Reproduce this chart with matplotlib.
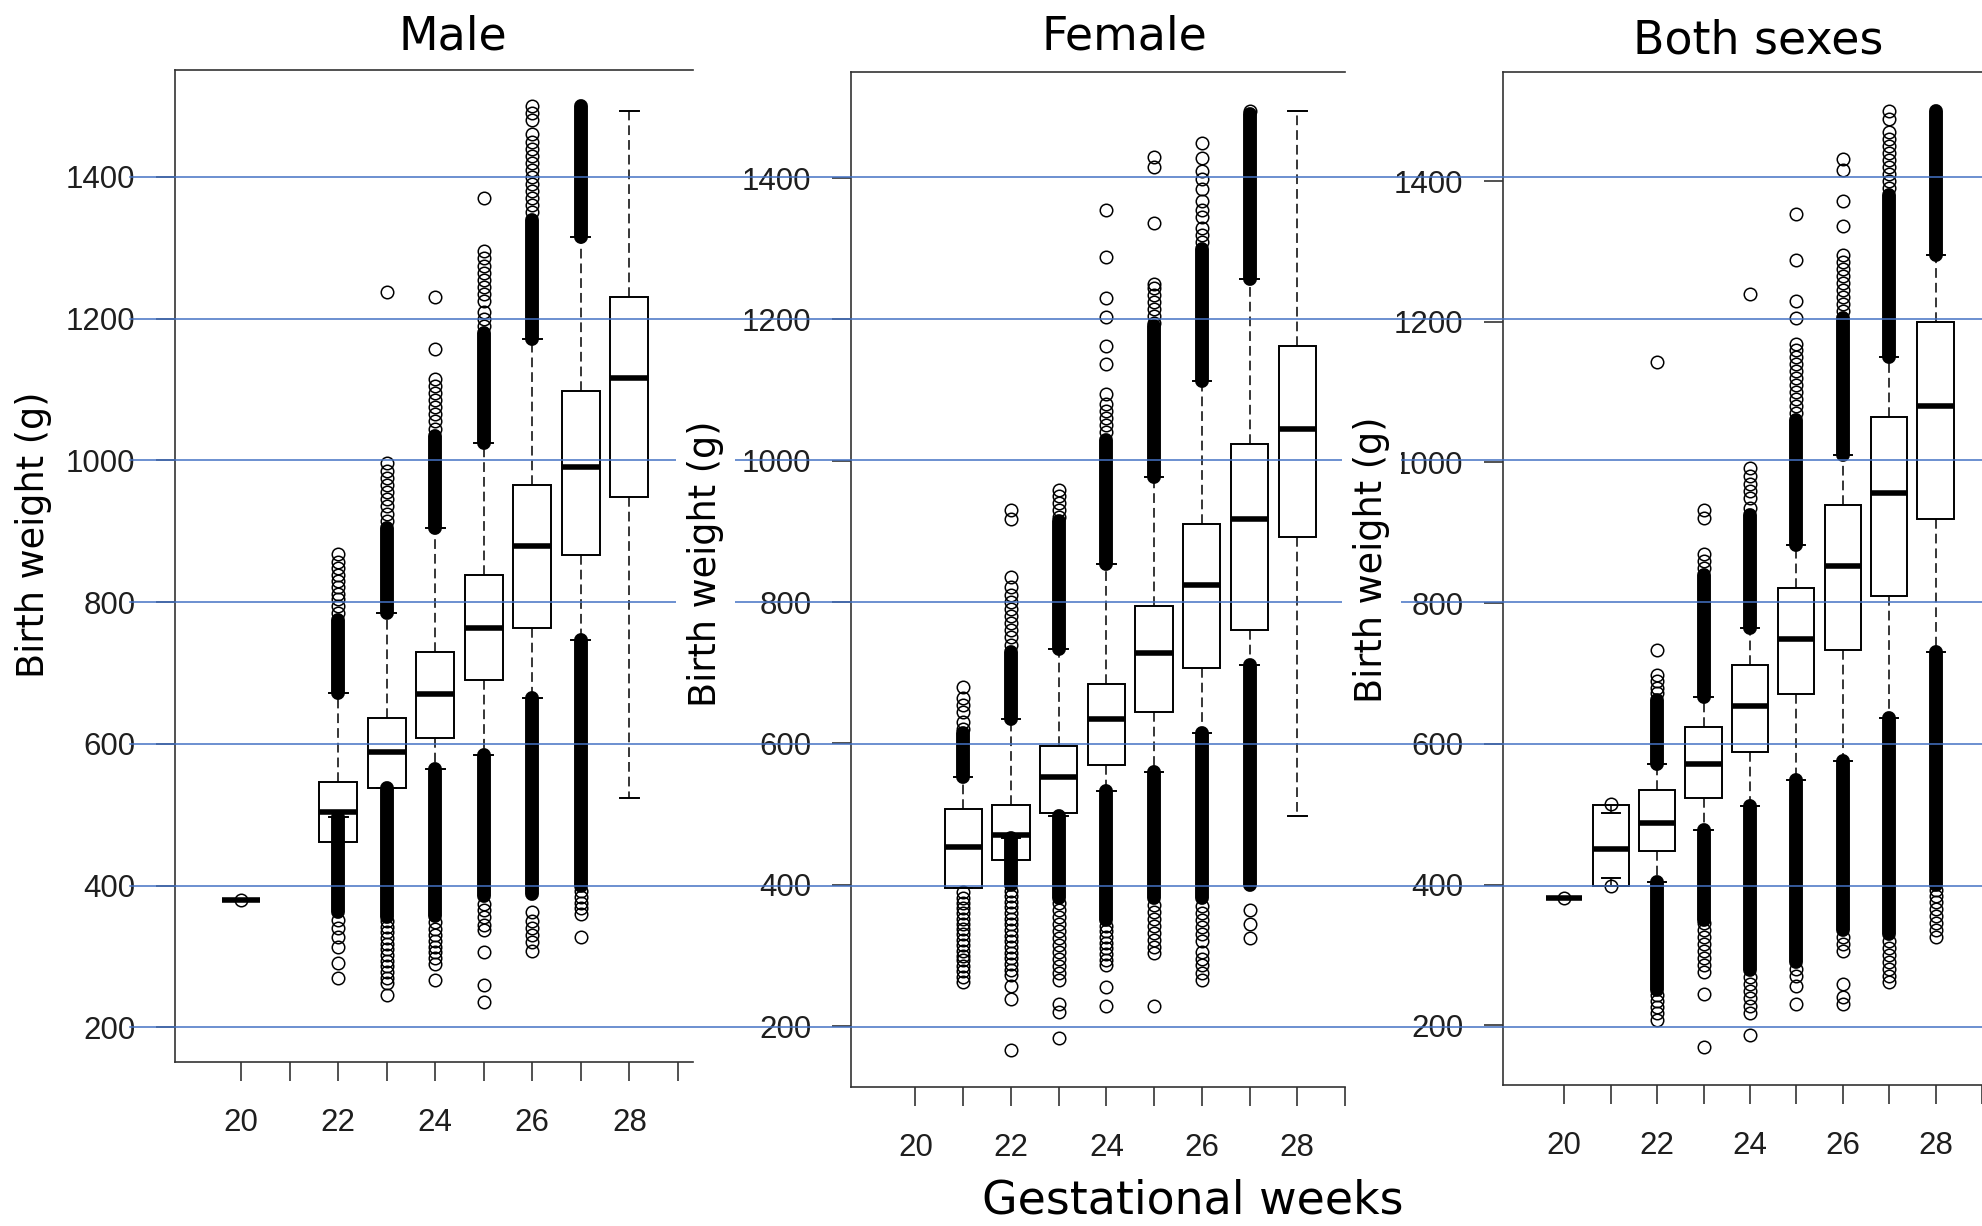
import matplotlib
matplotlib.use('Agg')
import matplotlib.pyplot as plt
from matplotlib import transforms
from matplotlib.lines import Line2D

plt.rcParams['lines.scale_dashes'] = False

# ---- data (birth weight in g by gestational week) ----
grid_values = [200, 400, 600, 800, 1000, 1200, 1400]
week_ticks = list(range(20, 30))

male_weeks = [20, 22, 23, 24, 25, 26, 27, 28]
male_q1 = [380, 461, 538, 608, 690, 763, 867, 948]
male_med = [380, 504, 589, 670, 763, 879, 991, 1116]
male_q3 = [380, 546, 636, 730, 838, 966, 1098, 1230]
male_whislo = [380, 497, 537, 564, 584, 665, 746, 523]
male_whishi = [380, 672, 785, 904, 1024, 1171, 1315, 1493]
# runs of outliers too dense to tell apart: (from, to)
male_dense = [[], [(672, 775), (497, 363)], [(785, 905), (537, 356)],
              [(904, 1035), (564, 357)], [(1024, 1180), (584, 385)],
              [(1171, 1340), (665, 388)], [(1315, 1500), (746, 400)], []]
male_fliers = [
    [380],
    [785, 795, 805, 812, 822, 830, 838, 848, 856, 868, 352, 340, 328, 314, 291, 270],
    [915, 925, 935, 945, 955, 965, 975, 985, 997, 1237,
     350, 342, 334, 326, 318, 310, 302, 294, 286, 278, 270, 262, 246],
    [1045, 1055, 1065, 1075, 1085, 1095, 1105, 1115, 1157, 1230,
     348, 338, 330, 322, 314, 306, 298, 290, 267],
    [1190, 1200, 1210, 1225, 1235, 1245, 1255, 1265, 1275, 1285, 1295, 1370,
     374, 365, 355, 345, 337, 306, 259, 236],
    [1350, 1360, 1370, 1380, 1390, 1400, 1410, 1420, 1430, 1440, 1450, 1460, 1480, 1490, 1500,
     362, 350, 340, 330, 320, 307],
    [392, 384, 376, 368, 360, 327],
    [],
]

female_weeks = [21, 22, 23, 24, 25, 26, 27, 28]
female_q1 = [395, 435, 502, 570, 645, 707, 760, 892]
female_med = [453, 471, 552, 635, 728, 824, 918, 1045]
female_q3 = [507, 513, 597, 684, 795, 911, 1024, 1162]
female_whislo = [395, 466, 497, 533, 559, 615, 711, 497]
female_whishi = [553, 635, 733, 854, 977, 1113, 1257, 1495]
female_dense = [[(553, 615)], [(635, 730), (466, 400)], [(733, 915), (497, 381)],
                [(854, 1030), (533, 350)], [(977, 1190), (559, 381)],
                [(1113, 1300), (615, 381)], [(1257, 1490), (711, 400)], []]
female_fliers = [
    [620, 630, 645, 655, 665, 680,
     390, 382, 375, 367, 360, 352, 345, 338, 330, 322, 315, 307, 300, 293, 285, 278, 270, 262],
    [740, 750, 760, 770, 780, 790, 800, 810, 822, 836, 917, 930,
     392, 384, 376, 368, 360, 352, 344, 336, 328, 320, 312, 304, 296, 288, 280, 272, 257, 238, 166],
    [920, 930, 940, 950, 958,
     375, 365, 355, 345, 335, 325, 315, 305, 295, 285, 275, 265, 232, 220, 183],
    [1040, 1050, 1060, 1070, 1080, 1095, 1137, 1162, 1204, 1230, 1288, 1355,
     342, 334, 326, 318, 310, 302, 294, 286, 255, 228],
    [1195, 1205, 1215, 1225, 1235, 1245, 1250, 1336, 1415, 1430,
     372, 362, 352, 342, 332, 322, 312, 304, 228],
    [1310, 1320, 1330, 1345, 1355, 1368, 1385, 1398, 1410, 1428, 1449,
     370, 360, 350, 340, 330, 320, 305, 295, 287, 275, 265],
    [1495, 365, 345, 325],
    [],
]

both_weeks = [20, 21, 22, 23, 24, 25, 26, 27, 28]
both_q1 = [381, 398, 447, 523, 589, 671, 734, 810, 919]
both_med = [381, 451, 488, 572, 654, 749, 853, 957, 1080]
both_q3 = [381, 513, 535, 624, 712, 822, 939, 1064, 1199]
both_whislo = [381, 409, 404, 478, 512, 549, 575, 637, 731]
both_whishi = [381, 501, 572, 666, 765, 883, 1010, 1150, 1295]
both_dense = [[], [], [(572, 662), (404, 250)], [(666, 840), (478, 350)],
              [(765, 925), (512, 278)], [(883, 1060), (549, 290)],
              [(1010, 1205), (575, 335)], [(1150, 1380), (637, 330)],
              [(1295, 1500), (731, 400)]]
both_fliers = [
    [381],
    [515, 398],
    [672, 680, 690, 698, 733, 1143, 243, 235, 226, 217, 208],
    [850, 860, 870, 921, 932, 345, 335, 325, 315, 305, 295, 285, 275, 245, 169],
    [935, 950, 960, 970, 980, 992, 1239, 268, 258, 248, 238, 228, 218, 186],
    [1070, 1080, 1090, 1100, 1110, 1120, 1130, 1140, 1150, 1160, 1168, 1205, 1230, 1288, 1353,
     280, 270, 256, 230],
    [1215, 1225, 1235, 1245, 1255, 1265, 1275, 1285, 1295, 1336, 1371, 1415, 1431,
     325, 315, 305, 259, 240, 230],
    [1390, 1400, 1410, 1420, 1430, 1440, 1450, 1460, 1470, 1488, 1499,
     320, 310, 300, 290, 280, 270, 262],
    [392, 384, 375, 365, 355, 345, 335, 325],
]

# ---- layout helpers (pixel coordinates on a 1982x1226 canvas) ----
W, H = 1982, 1226


def px_rect(left, top, right, bottom):
    return [left / W, 1 - bottom / H, (right - left) / W, (bottom - top) / H]


def draw_panel(ax, weeks, q1, med, q3, lo, hi, dense, fliers, xlim, ylim):
    stats = [dict(q1=a, med=m, q3=b, whislo=l, whishi=h, fliers=f)
             for a, m, b, l, h, f in zip(q1, med, q3, lo, hi, fliers)]
    ax.bxp(stats, positions=weeks, widths=0.78, patch_artist=True, manage_ticks=False,
           boxprops=dict(facecolor='white', edgecolor='black', linewidth=1.4),
           medianprops=dict(color='black', linewidth=4, solid_capstyle='butt'),
           whiskerprops=dict(color='black', linewidth=1.1, linestyle=(0, (7, 3.6))),
           capprops=dict(color='black', linewidth=1.4),
           flierprops=dict(marker='o', markersize=9, markerfacecolor='none',
                           markeredgecolor='black', markeredgewidth=1.1))
    for x, runs in zip(weeks, dense):
        for a, b in runs:
            ax.plot([x, x], [a, b], color='black', linewidth=10,
                    solid_capstyle='round', zorder=4)

    ax.set_xlim(*xlim)
    ax.set_ylim(*ylim)
    ax.set_xticks(week_ticks)
    ax.set_xticklabels([str(w) if w % 2 == 0 else '' for w in week_ticks])
    ax.set_yticks(grid_values)
    ax.set_yticklabels([str(v) for v in grid_values])
    ax.tick_params(axis='y', length=13.5, width=1.2, color='#333333', pad=15,
                   labelsize=22.5, labelcolor='#1e1e1e')
    ax.tick_params(axis='x', length=13.5, width=1.2, color='#333333', pad=19.5,
                   labelsize=22.5, labelcolor='#1e1e1e')
    for lab in ax.get_xticklabels() + ax.get_yticklabels():
        lab.set_family('Liberation Sans')
    ax.spines['right'].set_visible(False)
    for side in ('left', 'top', 'bottom'):
        ax.spines[side].set_color('#333333')
        ax.spines[side].set_linewidth(1.2)
    ax.patch.set_alpha(0)


fig = plt.figure(figsize=(W / 100, H / 100), dpi=100)

ax_m = fig.add_axes(px_rect(175, 70, 693, 1062))
ax_f = fig.add_axes(px_rect(851, 72, 1345, 1087))
ax_b = fig.add_axes(px_rect(1503, 72, 1982, 1085))

draw_panel(ax_m, male_weeks, male_q1, male_med, male_q3, male_whislo, male_whishi,
           male_dense, male_fliers, (18.64, 29.31), (151, 1551))
draw_panel(ax_f, female_weeks, female_q1, female_med, female_q3, female_whislo,
           female_whishi, female_dense, female_fliers, (18.65, 28.81), (114, 1550))
draw_panel(ax_b, both_weeks, both_q1, both_med, both_q3, both_whislo, both_whishi,
           both_dense, both_fliers, (18.68, 28.52), (115, 1555))

# reference lines across all three panels, on the male panel's scale
trans = transforms.blended_transform_factory(fig.transFigure, ax_m.transData)
for v in grid_values:
    fig.add_artist(Line2D([130 / W, 1.0], [v, v], transform=trans,
                          color='#4472C4', linewidth=1.1, zorder=5))

title_kw = dict(fontsize=33, family='DejaVu Sans', ha='center', va='baseline')
fig.text(453 / W, 1 - 50 / H, 'Male', **title_kw)
fig.text(1124 / W, 1 - 49 / H, 'Female', **title_kw)
fig.text(1758 / W, 1 - 54 / H, 'Both sexes', **title_kw)
fig.text(1193 / W, 1 - 1214 / H, 'Gestational weeks', **title_kw)

ylab_kw = dict(fontsize=26.4, family='DejaVu Sans', rotation=90, ha='center',
               va='center', zorder=6)
fig.text(34 / W, 1 - 535 / H, 'Birth weight (g)', **ylab_kw)
fig.text(705 / W, 1 - 564 / H, 'Birth weight (g)',
         bbox=dict(facecolor='white', edgecolor='none', pad=8), **ylab_kw)
fig.text(1371 / W, 1 - 560 / H, 'Birth weight (g)',
         bbox=dict(facecolor='white', edgecolor='none', pad=8), **ylab_kw)

fig.savefig('out.png', dpi=100)
